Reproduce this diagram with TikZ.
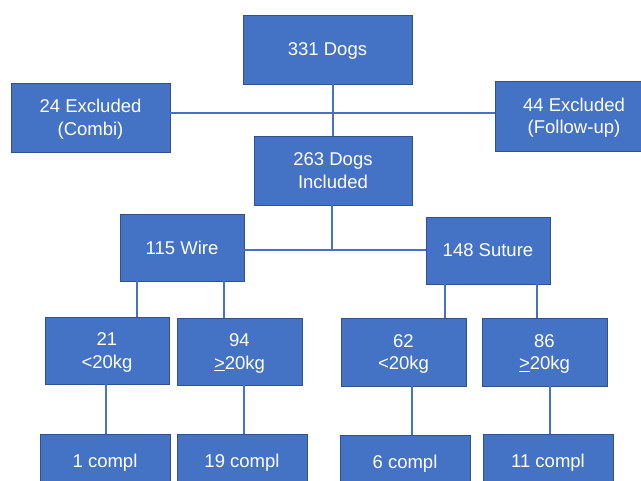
\documentclass[tikz,border=0pt]{standalone}
\usepackage{fontspec}
\setmainfont{Liberation Sans}
\usetikzlibrary{calc}
\definecolor{boxblue}{HTML}{4472C4}
\definecolor{boxedge}{HTML}{2F528F}

\begin{document}
\begin{tikzpicture}[x=1pt, y=-1pt,
    box/.style={draw=boxedge, line width=0.8pt, fill=boxblue, text=white,
      align=center, inner sep=0pt, text depth=0pt,
      font=\fontsize{18.5}{22.5}\selectfont},
    link/.style={draw=boxblue, line width=1.6pt}]
      \useasboundingbox (0,0) rectangle (641,481);
      \clip (0,0) rectangle (641,481);

      % top level
      \node [box, name=dogs, minimum width=169pt, minimum height=69pt] at
      (327.5, 49.5) {331 Dogs};
      \node [box, name=excl1, minimum width=159pt, minimum height=69pt] at
      (90.5, 117.5) {24 Excluded\\(Combi)};
      \node [box, name=excl2, minimum width=158pt, minimum height=70pt] at
      (574, 116) {44 Excluded\\(Follow-up)};
      \node [box, name=incl, minimum width=158pt, minimum height=69pt] at
      (333, 170.5) {263 Dogs\\Included};

      \coordinate (split) at (332, 113);
      \draw [link] (excl1.east |- split) -- (excl2.west |- split);
      \draw [link] (incl.north) -- (incl.north |- dogs.south);

      % groups
      \node [box, name=wire, minimum width=124pt, minimum height=67pt] at
      (182, 247.5) {115 Wire};
      \node [box, name=suture, minimum width=124pt, minimum height=67pt] at
      (488, 250.5) {148 Suture};

      \coordinate (branch) at (332, 250);
      \draw [link] (wire.east |- branch) -- (suture.west |- branch);
      \draw [link] ([xshift=-1pt]incl.south) -- ([xshift=-1pt]incl.south |- branch);

      % weight classes
      \node [box, name=w1, minimum width=124pt, minimum height=67pt] at
      (107, 350.5) {21\\<20kg};
      \node [box, name=w2, minimum width=125pt, minimum height=67pt] at
      (239.5, 351.5) {94\\\underline{>}20kg};
      \node [box, name=s1, minimum width=125pt, minimum height=68pt] at
      (403.5, 352) {62\\<20kg};
      \node [box, name=s2, minimum width=125pt, minimum height=68pt] at
      (544.5, 352) {86\\\underline{>}20kg};

      \draw [link] ([xshift=-45pt]wire.south) -- ([xshift=-45pt]wire.south |- w1.north);
      \draw [link] ([xshift=42pt]wire.south) -- ([xshift=42pt]wire.south |- w2.north);
      \draw [link] ([xshift=-43pt]suture.south) -- ([xshift=-43pt]suture.south |- s1.north);
      \draw [link] ([xshift=49pt]suture.south) -- ([xshift=49pt]suture.south |- s2.north);

      % complications
      \node [box, name=c1, minimum width=130pt, minimum height=54pt] at
      (105, 461) {1 compl};
      \node [box, name=c2, minimum width=130pt, minimum height=54pt] at
      (242, 461) {19 compl};
      \node [box, name=c3, minimum width=130pt, minimum height=54pt] at
      (405, 462) {6 compl};
      \node [box, name=c4, minimum width=130pt, minimum height=54pt] at
      (548, 461) {11 compl};

      \draw [link] ([xshift=-1pt]w1.south) -- ([xshift=-1pt]w1.south |- c1.north);
      \draw [link] ([xshift=4.5pt]w2.south) -- ([xshift=4.5pt]w2.south |- c2.north);
      \draw [link] ([xshift=8.5pt]s1.south) -- ([xshift=8.5pt]s1.south |- c3.north);
      \draw [link] ([xshift=5.5pt]s2.south) -- ([xshift=5.5pt]s2.south |- c4.north);
    \end{tikzpicture}
\end{document}
